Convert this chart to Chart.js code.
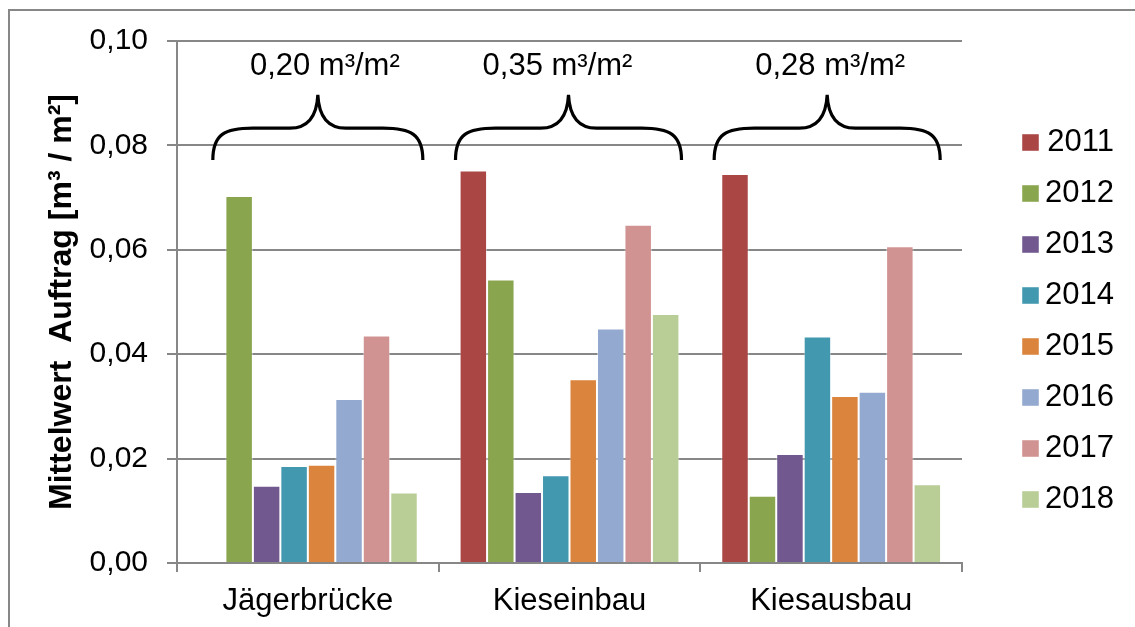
<!DOCTYPE html>
<html>
<head>
<meta charset="utf-8">
<script src="https://cdn.jsdelivr.net/npm/chart.js@4/dist/chart.umd.min.js"></script>
<style>
html,body{margin:0;padding:0;background:#fff;}
#wrap{width:1135px;height:627px;position:relative;}
</style>
</head>
<body>
<div id="wrap"><canvas id="c" width="1135" height="627"></canvas></div>
<script>
const categories = ['Jägerbrücke', 'Kieseinbau', 'Kiesausbau'];
const years = ['2011', '2012', '2013', '2014', '2015', '2016', '2017', '2018'];
const v2011 = [null, 0.0752, 0.0745];
const v2012 = [0.0703, 0.0543, 0.0129];
const v2013 = [0.0148, 0.0136, 0.0209];
const v2014 = [0.0186, 0.0168, 0.0434];
const v2015 = [0.0188, 0.0352, 0.0320];
const v2016 = [0.0314, 0.0449, 0.0328];
const v2017 = [0.0436, 0.0648, 0.0607];
const v2018 = [0.0135, 0.0477, 0.0151];
const groupTotals = ['0,20 m³/m²', '0,35 m³/m²', '0,28 m³/m²'];
const yTicks = [0, 0.02, 0.04, 0.06, 0.08, 0.10];
const colors = ['#AA4644', '#89A54E', '#71588F', '#4198AF', '#DB843D', '#93A9CF', '#D19392', '#B9CD96'];

const seriesValues = [v2011, v2012, v2013, v2014, v2015, v2016, v2017, v2018];
const datasets = years.map((y, i) => ({
  label: y,
  data: seriesValues[i],
  backgroundColor: colors[i],
  borderColor: 'rgba(255,255,255,0.45)',
  borderWidth: 1,
  borderSkipped: 'bottom',
  categoryPercentage: 0.84,
  barPercentage: 1.0
}));

const FONT = "'Liberation Sans', Arial, sans-serif";

// style-only placement tweaks for the curly-brace annotations
const braceShift = [10, -1, -4];
const braceHalf = [105, 113, 113];
const textShift = [17, -12, -1];

const frame = {
  id: 'frame',
  beforeLayout(chart) {
    const lg = chart.legend;
    if (lg && !lg._fixedW) {
      const f = lg.fit;
      lg.fit = function () { f.call(this); this.width = 112; };
      lg._fixedW = true;
    }
  },
  beforeDraw(chart) {
    const ctx = chart.ctx;
    ctx.save();
    ctx.fillStyle = '#fff';
    ctx.fillRect(0, 0, chart.width, chart.height);
    ctx.strokeStyle = '#878787';
    ctx.lineWidth = 2;
    ctx.beginPath();
    ctx.moveTo(9, chart.height + 2);
    ctx.lineTo(9, 10);
    ctx.lineTo(chart.width + 2, 10);
    ctx.stroke();
    ctx.restore();
  }
};

const braces = {
  id: 'braces',
  afterDatasetsDraw(chart) {
    const ctx = chart.ctx;
    const xs = chart.scales.x, ys = chart.scales.y;
    const yEnd = ys.getPixelForValue(0.0772);
    const yH = ys.getPixelForValue(0.0833);
    const yPeak = ys.getPixelForValue(0.0897);
    const yText = ys.getPixelForValue(0.0952);
    ctx.save();
    ctx.strokeStyle = '#000';
    ctx.lineWidth = 3.2;
    ctx.lineCap = 'butt';
    categories.forEach((c, i) => {
      const base = xs.getPixelForValue(i);
      const cx = base + braceShift[i];
      const half = braceHalf[i];
      const x0 = cx - half, x1 = cx + half;
      const r = 40;
      ctx.beginPath();
      ctx.moveTo(x0, yEnd);
      ctx.bezierCurveTo(x0, yH + 6, x0 + 12, yH, x0 + r, yH);
      ctx.lineTo(cx - 28, yH);
      ctx.bezierCurveTo(cx - 10, yH, cx - 1, yH - 12, cx, yPeak);
      ctx.bezierCurveTo(cx + 1, yH - 12, cx + 10, yH, cx + 28, yH);
      ctx.lineTo(x1 - r, yH);
      ctx.bezierCurveTo(x1 - 12, yH, x1, yH + 6, x1, yEnd);
      ctx.stroke();
      ctx.fillStyle = '#000';
      ctx.font = '31px ' + FONT;
      ctx.textAlign = 'center';
      ctx.textBaseline = 'middle';
      ctx.fillText(groupTotals[i], base + textShift[i], yText);
    });
    ctx.restore();
  }
};

new Chart(document.getElementById('c'), {
  type: 'bar',
  data: { labels: categories, datasets },
  options: {
    responsive: false,
    animation: false,
    devicePixelRatio: 1,
    layout: { padding: { left: 20, top: 41, right: 21, bottom: 0 } },
    plugins: {
      legend: {
        position: 'right',
        align: 'start',
        title: { display: true, text: ' ', padding: 21, font: { family: FONT, size: 20 } },
        labels: {
          boxWidth: 17,
          boxHeight: 17,
          padding: 20,
          textAlign: 'right',
          color: '#000',
          font: { family: FONT, size: 31 }
        }
      },
      tooltip: { enabled: false },
      title: { display: false }
    },
    scales: {
      x: {
        grid: { display: true, drawOnChartArea: false, offset: true, tickLength: 9, color: '#878787', lineWidth: 2 },
        border: { display: true, color: '#878787', width: 2 },
        ticks: { color: '#000', font: { family: FONT, size: 31 }, padding: 11 },
        afterFit(s) { s.height = 64; }
      },
      y: {
        min: 0, max: 0.10,
        afterBuildTicks(s) { s.ticks = yTicks.map(v => ({ value: v })); },
        grid: { color: '#878787', lineWidth: 2, tickLength: 10 },
        border: { display: true, color: '#878787', width: 2 },
        ticks: {
          color: '#000',
          padding: 19,
          font: { family: FONT, size: 30 },
          callback: v => v.toFixed(2).replace('.', ',')
        },
        title: {
          display: true,
          text: 'Mittelwert  Auftrag [m³ / m²]',
          color: '#000',
          font: { family: FONT, size: 32, weight: 'bold' },
          padding: { top: 23, bottom: 0 }
        },
        afterFit(s) { s.width = 157; }
      },
      y2: {
        position: 'right',
        display: true,
        grid: { display: false, drawTicks: false },
        border: { display: false },
        ticks: { display: false },
        afterFit(s) { s.width = 40; }
      }
    }
  },
  plugins: [frame, braces]
});
</script>
</body>
</html>
